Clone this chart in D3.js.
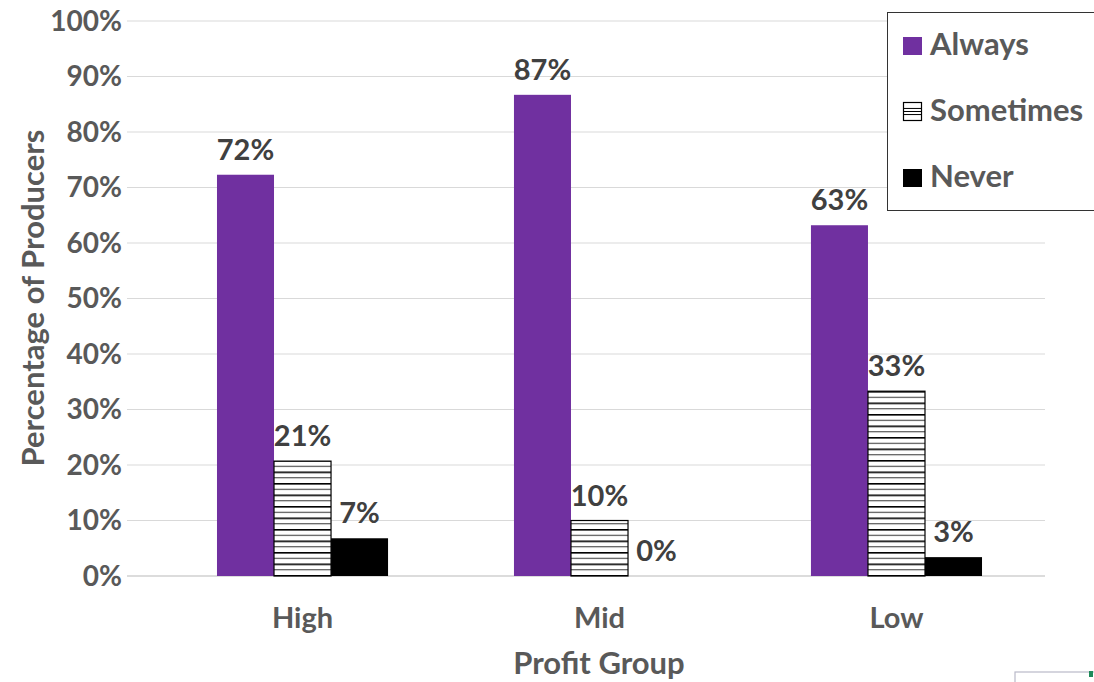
<!DOCTYPE html>
<html><head><meta charset="utf-8">
<script src="https://cdn.jsdelivr.net/npm/d3@7"></script>
<style>body{margin:0;background:#fff}svg{display:block}</style>
</head><body><svg id="c" width="1094" height="682"></svg>
<script>
const categories = ["High", "Mid", "Low"];
const seriesNames = ["Always", "Sometimes", "Never"];
const always = [72.3, 86.7, 63.2];
const sometimes = [20.7, 10.0, 33.3];
const never = [6.8, 0, 3.4];
const labels = [["72%","21%","7%"],["87%","10%","0%"],["63%","33%","3%"]];
const yTicks = [0,10,20,30,40,50,60,70,80,90,100];

const svg = d3.select("#c");
const font = "Lato, 'Open Sans', sans-serif";
const defs = svg.append("defs");
const pat = defs.append("pattern").attr("id","hatch").attr("patternUnits","userSpaceOnUse")
  .attr("width",8).attr("height",11.5);
pat.append("rect").attr("width",8).attr("height",11.5).attr("fill","#fff");
pat.append("rect").attr("y",0).attr("width",8).attr("height",1.6).attr("fill","#000");
pat.append("rect").attr("y",5.8).attr("width",8).attr("height",1).attr("fill","#333");

const pLeft = 127, pRight = 1045, pTop = 21, pBottom = 576;
const x = d3.scaleBand().domain(categories).range([127, 1072]).paddingInner(0.424).paddingOuter(0.303);
const y = d3.scaleLinear().domain([0,100]).range([pBottom, pTop]);
const xs = d3.scaleBand().domain(seriesNames).range([0, x.bandwidth()]);

// gridlines
svg.append("g").selectAll("line").data(yTicks).join("line")
  .attr("x1", pLeft).attr("x2", pRight).attr("y1", d=>y(d)).attr("y2", d=>y(d))
  .attr("stroke", d=> d===0 ? "#d0d0d0" : "#d9d9d9").attr("stroke-width", d=>d===0?1.5:1);

// y tick labels
svg.append("g").selectAll("text").data(yTicks).join("text")
  .attr("x", 122).attr("y", d=>y(d)).attr("dy","0.35em").attr("text-anchor","end")
  .attr("font-family",font).attr("font-weight","bold").attr("font-size",28).attr("fill","#595959")
  .text(d=>d+"%");

const fills = {Always:"#7030a0", Sometimes:"url(#hatch)", Never:"#000"};
const data = [];
categories.forEach((c,i)=>{
  const vals = [always[i], sometimes[i], never[i]];
  seriesNames.forEach((s,j)=>data.push({c, s, v: vals[j], lab: labels[i][j]}));
});

svg.append("g").selectAll("rect").data(data).join("rect")
  .attr("x", d=>x(d.c)+xs(d.s)).attr("width", xs.bandwidth())
  .attr("y", d=>y(d.v)).attr("height", d=>y(0)-y(d.v))
  .attr("fill", d=>fills[d.s])
  .attr("stroke", d=>d.s==="Sometimes" ? "#000" : "none").attr("stroke-width",1.2)
  .attr("display", d=>d.v===0 ? "none" : null);

svg.append("g").selectAll("text").data(data).join("text")
  .attr("x", d=>x(d.c)+xs(d.s)+xs.bandwidth()/2).attr("y", d=>y(d.v)-15)
  .attr("text-anchor","middle").attr("font-family",font).attr("font-weight","bold")
  .attr("font-size",29).attr("fill","#404040").text(d=>d.lab);

// category labels
svg.append("g").selectAll("text").data(categories).join("text")
  .attr("x", d=>x(d)+x.bandwidth()/2).attr("y", 628).attr("text-anchor","middle")
  .attr("font-family",font).attr("font-weight","bold").attr("font-size",29).attr("fill","#595959")
  .text(d=>d);

svg.append("text").attr("x", 599).attr("y", 674).attr("text-anchor","middle")
  .attr("font-family",font).attr("font-weight","bold").attr("font-size",31).attr("fill","#595959")
  .text("Profit Group");

svg.append("text").attr("transform","translate(44,298) rotate(-90)").attr("text-anchor","middle")
  .attr("font-family",font).attr("font-weight","bold").attr("font-size",31).attr("fill","#595959")
  .text("Percentage of Producers");

// legend
const lg = svg.append("g");
lg.append("rect").attr("x",887.5).attr("y",12.5).attr("width",220).attr("height",198)
  .attr("fill","#fff").attr("stroke","#333").attr("stroke-width",1);
const legBase = [55, 121, 187];
seriesNames.forEach((s,i)=>{
  if (s==="Sometimes") {
    const g = lg.append("g");
    g.append("rect").attr("x",903.5).attr("y",legBase[i]-18.5).attr("width",18).attr("height",18)
      .attr("fill","#fff").attr("stroke","#000").attr("stroke-width",1.2);
    [0.33,0.5,0.67].forEach(f=>g.append("line").attr("x1",903.5).attr("x2",921.5)
      .attr("y1",legBase[i]-18.5+18*f).attr("y2",legBase[i]-18.5+18*f).attr("stroke","#000").attr("stroke-width",1));
  } else {
    lg.append("rect").attr("x",903).attr("y",legBase[i]-18).attr("width",19).attr("height",18).attr("fill",fills[s]);
  }
  lg.append("text").attr("x",930).attr("y",legBase[i])
    .attr("font-family",font).attr("font-weight","bold").attr("font-size",31).attr("fill","#595959").text(s);
});

// small artifact at bottom-right
svg.append("rect").attr("x",1015).attr("y",672).attr("width",80).attr("height",12)
  .attr("fill","#fff").attr("stroke","#b9b9c9").attr("stroke-width",1.2);
svg.append("rect").attr("x",1089).attr("y",671).attr("width",4).attr("height",6).attr("fill","#1e8a5a");
</script></body></html>
